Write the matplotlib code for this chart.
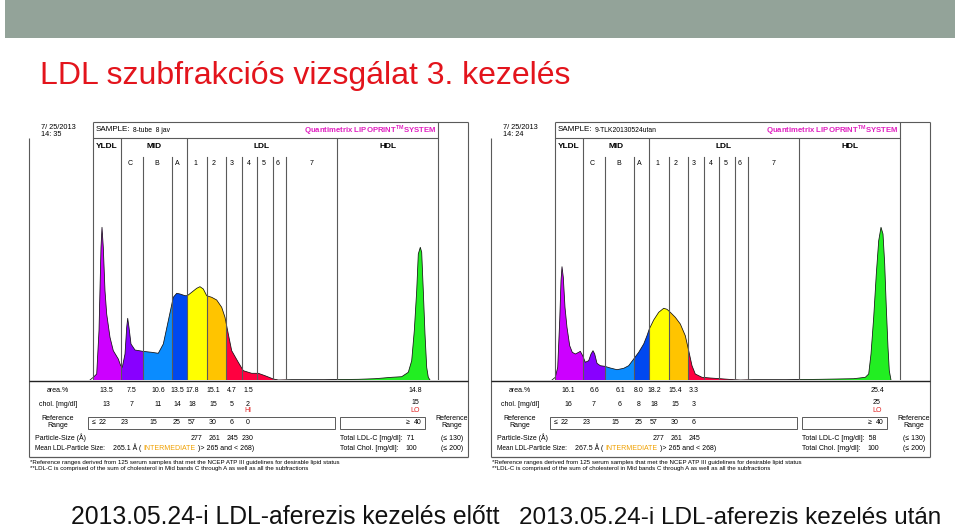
import numpy as np
import matplotlib
matplotlib.use('Agg')
import matplotlib.pyplot as plt
from matplotlib.patches import Rectangle, Polygon

# ------------------------------------------------------------------ data
slide_title = 'LDL szubfrakciós vizsgálat 3. kezelés'
captions = ['2013.05.24-i LDL-aferezis kezelés előtt', '2013.05.24-i LDL-aferezis kezelés után']
dates = [('7/ 25/2013', '14: 35'), ('7/ 25/2013', '14: 24')]
samples = ['8-tube  8 jav', '9-TLK20130524utan']

# band boundaries on the migration axis (same units as curve x)
band_edges = [64.3, 91.7, 113.7, 142.7, 158.3, 177.7, 196.7, 257.3, 308.3, 408.7]
band_colors = ['#CC00FF', '#8800FF', '#0A8CFF', '#0048F0', '#FFFF00', '#FFC400',
               '#FF0040', '#303030', '#22EE22']
tall_dividers = [64.3, 91.7, 158.3, 308.3, 408.7]
short_dividers = [113.7, 142.7, 177.7, 196.7, 212.7, 228.3, 244.3, 257.3]

# densitometric scans (migration, relative absorbance)
left_x = [61.0, 64.3, 67.7, 70.0, 72.0, 73.0, 74.3, 76.0, 77.7, 81.0, 84.3, 89.3, 91.7,
          93.3, 96.0, 97.7, 98.7, 100.0, 102.0, 106.0, 113.7, 122.7, 129.3, 134.3, 139.3,
          144.3, 147.7, 151.0, 156.0, 158.3, 162.7, 167.7, 171.0, 174.3, 177.7, 182.7,
          187.7, 192.7, 196.0, 199.3, 202.7, 209.3, 214.3, 222.7, 229.3, 236.0, 244.3,
          249.3, 262.7, 296.0, 329.3, 346.0, 362.7, 372.7, 379.3, 382.7, 385.3, 387.7,
          389.3, 391.3, 392.7, 394.3, 396.0, 397.7, 399.3, 401.0]
left_y = [0.0, 2.7, 6.0, 49.3, 132.7, 152.7, 132.7, 89.3, 66.0, 42.7, 29.3, 21.0, 14.3,
          12.7, 26.0, 52.7, 61.7, 52.7, 36.0, 30.0, 28.7, 27.7, 26.7, 36.0, 59.3,
          82.7, 86.7, 86.0, 84.3, 84.3, 87.7, 91.7, 93.3, 91.0, 84.3, 82.7,
          80.0, 72.7, 62.7, 46.0, 29.3, 17.7, 9.3, 6.7, 6.7, 4.3, 1.0,
          0.0, 0.3, 0.3, 0.7, 1.3, 2.7, 3.3, 7.7, 19.3, 49.3, 89.3,
          126.0, 132.7, 127.7, 89.3, 46.0, 12.7, 2.7, 0.0]

right_x = [61.0, 64.3, 66.7, 68.7, 70.0, 71.0, 72.3, 74.0, 76.0, 78.7, 81.3, 84.3, 87.7,
           89.3, 91.7, 94.3, 97.7, 100.0, 102.0, 103.7, 106.0, 109.3, 113.7, 119.3, 126.0,
           132.7, 137.7, 142.7, 147.7, 152.7, 156.0, 158.3, 162.7, 167.7, 172.7, 176.0,
           179.3, 184.3, 189.3, 194.3, 197.7, 201.0, 204.3, 211.0, 219.3, 229.3, 242.7,
           249.3, 262.7, 296.0, 329.3, 346.0, 362.7, 374.3, 377.7, 380.0, 382.7, 385.3,
           387.7, 390.0, 392.0, 393.7, 395.3, 397.0, 398.3, 400.0]
right_y = [0.0, 2.7, 12.7, 59.3, 99.3, 113.3, 102.7, 72.7, 52.7, 34.3, 27.7, 26.0, 27.7,
           28.7, 24.3, 17.7, 19.3, 26.0, 29.3, 26.0, 16.7, 14.3, 13.7, 12.0, 10.3,
           11.7, 14.3, 21.0, 27.7, 36.0, 44.3, 51.0, 60.0, 67.7, 71.7, 70.7,
           67.7, 62.7, 56.0, 44.3, 29.3, 14.3, 6.0, 2.7, 2.0, 1.3, 0.3,
           0.0, 0.3, 0.3, 0.7, 1.0, 1.3, 2.7, 6.0, 26.0, 62.7, 106.0,
           139.3, 152.7, 146.0, 116.0, 72.7, 32.7, 9.3, 0.0]

# table values
left_area = ['13.5', '7.5', '10.6', '13.5', '17.8', '15.1', '4.7', '1.5']
left_chol = ['13', '7', '11', '14', '18', '15', '5', '2']
left_hdl = ('14.8', '15')
right_area = ['16.1', '6.6', '6.1', '8.0', '18.2', '15.4', '3.3']
right_chol = ['16', '7', '6', '8', '18', '15', '3']
right_hdl = ('25.4', '25')
left_ref = ['23', '15', '25', '57', '30', '6', '0']
right_ref = ['23', '15', '25', '57', '30', '6']
left_sizes = ['277', '261', '245', '230']
right_sizes = ['277', '261', '245']
mean_sizes = ['265.1', '267.5']
total_ldl = ['71', '58']
total_chol = ['100', '100']

# ------------------------------------------------------------------ figure
W, H = 960, 529
fig = plt.figure(figsize=(W / 100, H / 100), dpi=100)
bg = fig.add_axes([0, 0, 1, 1])
bg.set_xlim(0, W)
bg.set_ylim(H, 0)
bg.axis('off')

SANS = ['Liberation Sans', 'DejaVu Sans']

bg.add_patch(Rectangle((5, 0), 950, 38, color='#93A399', lw=0))
bg.text(40, 84, slide_title, color='#E3141C', fontsize=23, family=SANS, va='baseline')

LINE = '#5a5a5a'
FS = 5.0


def hline(x0, x1, y, lw=0.8, c=LINE):
    bg.plot([x0, x1], [y, y], color=c, lw=lw, solid_capstyle='butt')


def vline(x, y0, y1, lw=0.8, c=LINE):
    bg.plot([x, x], [y0, y1], color=c, lw=lw, solid_capstyle='butt')


def t(x, y, s, ha='center', fs=FS, **kw):
    bg.text(x, y, s, ha=ha, va='center', fontsize=fs, family=SANS, **kw)


def report(dx, k, cx, cy, area, chol, hdl, ref, sizes):
    X = lambda v: dx + v
    # header
    t(X(41), 127.5, dates[k][0], ha='left', fs=5.3)
    t(X(41), 135, dates[k][1], ha='left', fs=5.3)
    hline(X(93), X(468), 121.5)
    hline(X(93), X(438), 138)
    vline(X(468), 121.5, 457)
    vline(X(93), 121.5, 138)
    vline(X(438), 121.5, 138)
    vline(X(29), 138, 457)
    t(X(96), 129.5, 'SAMPLE:', ha='left', fs=5.8)
    t(X(133), 130, samples[k], ha='left', fs=4.9)
    bg.text(X(437), 130, 'Quantimetrix LIPOPRINT$^{\\mathregular{TM}}$SYSTEM', ha='right',
            va='center', fontsize=5.6, family=SANS, color='#E020C0', fontweight='bold')
    t(X(107), 146, 'YLDL', fs=6.0, fontweight='bold')
    t(X(154), 146, 'MID', fs=6.0, fontweight='bold')
    t(X(262), 146, 'LDL', fs=6.0, fontweight='bold')
    t(X(388), 146, 'HDL', fs=6.0, fontweight='bold')
    for lab, px in zip(['C', 'B', 'A', '1', '2', '3', '4', '5', '6', '7'],
                       [130, 157, 177, 195, 214, 232, 249, 264, 278, 312]):
        t(X(px), 163.5, lab, fs=5.0)

    # plot area
    ax = fig.add_axes([X(29) / W, (H - 380) / H, 439 / W, 242 / H])
    ax.set_xlim(0, 439)
    ax.set_ylim(0, 242)
    ax.set_facecolor('none')
    ax.axis('off')
    pts = np.column_stack([cx, cy])
    poly = Polygon(pts, closed=True, facecolor='none', edgecolor='none')
    ax.add_patch(poly)
    for e0, e1, c in zip(band_edges[:-1], band_edges[1:], band_colors):
        sp = ax.axvspan(e0, e1, color=c, lw=0, zorder=1)
        sp.set_clip_path(poly)
    ax.plot(cx, cy, color='#101010', lw=0.55, zorder=3)
    for v in tall_dividers:
        ax.axvline(v, color=LINE, lw=0.8, zorder=4)
    for v in short_dividers:
        ax.axvline(v, ymax=(380 - 157) / 242, color=LINE, lw=0.8, zorder=4)

    # table
    hline(X(29), X(468), 381, lw=1.0, c='#222222')
    hline(X(29), X(468), 457, lw=0.9)
    t(X(58), 390, 'area.%')
    t(X(58), 404, 'chol. [mg/dl]')
    t(X(58), 422, 'Reference\nRange', linespacing=0.95)
    t(X(452), 422, 'Reference\nRange', linespacing=0.95)
    val_x = [106, 132, 158, 177, 192, 213, 232, 248]
    for v, px in zip(area, val_x):
        t(X(px), 390, v)
    for v, px in zip(chol, val_x):
        t(X(px), 404, v)
    t(X(415), 390, hdl[0])
    t(X(415), 403, hdl[1])
    if k == 0:
        t(X(248), 411, 'HI', color='#E02020')
    t(X(415), 411, 'LO', color='#E02020')
    bg.add_patch(Rectangle((X(88), 416.5), 247, 12, fill=False, ec=LINE, lw=0.7))
    bg.add_patch(Rectangle((X(340), 416.5), 85, 12, fill=False, ec=LINE, lw=0.7))
    t(X(94), 422.5, '≤', ha='center')
    t(X(103), 422.5, '22')
    for v, px in zip(ref, [125, 153, 177, 192, 213, 232, 248]):
        t(X(px), 422.5, v)
    t(X(408), 422.5, '≥', ha='center')
    t(X(418), 422.5, '40')
    t(X(35), 438, 'Particle-Size (Å)', ha='left')
    for v, px in zip(sizes, [196, 214, 232, 248]):
        t(X(px), 438, v)
    t(X(340), 438, 'Total LDL-C [mg/dl]:  ' + total_ldl[k], ha='left')
    t(X(452), 438, '(≤ 130)')
    t(X(35), 448.5, 'Mean LDL-Particle Size:', ha='left', fs=4.7)
    t(X(113), 448.5, mean_sizes[k] + ' Å', ha='left')
    t(X(139), 448.5, '(', ha='left')
    t(X(143), 448.5, 'INTERMEDIATE', ha='left', color='#F0A000')
    t(X(198), 448.5, ')> 265 and < 268)', ha='left')
    t(X(340), 448.5, 'Total Chol. [mg/dl]:', ha='left')
    t(X(405), 448.5, total_chol[k], ha='left')
    t(X(452), 448.5, '(≤ 200)')
    t(X(30), 462.5, '*Reference ranges derived from 125 serum samples that met the NCEP ATP III '
                    'guidelines for desirable lipid status', ha='left', fs=4.4)
    t(X(30), 468.5, '**LDL-C is comprised of the sum of cholesterol in Mid bands C through A as '
                    'well as all the subfractions', ha='left', fs=4.4)


report(0, 0, left_x, left_y, left_area, left_chol, left_hdl, left_ref, left_sizes)
report(462, 1, right_x, right_y, right_area, right_chol, right_hdl, right_ref, right_sizes)

bg.text(285, 524, captions[0], ha='center', va='baseline', fontsize=17.8, family=SANS, color='#111111')
bg.text(730, 524, captions[1], ha='center', va='baseline', fontsize=17.5, family=SANS, color='#111111')

fig.savefig('out.png', dpi=100)
